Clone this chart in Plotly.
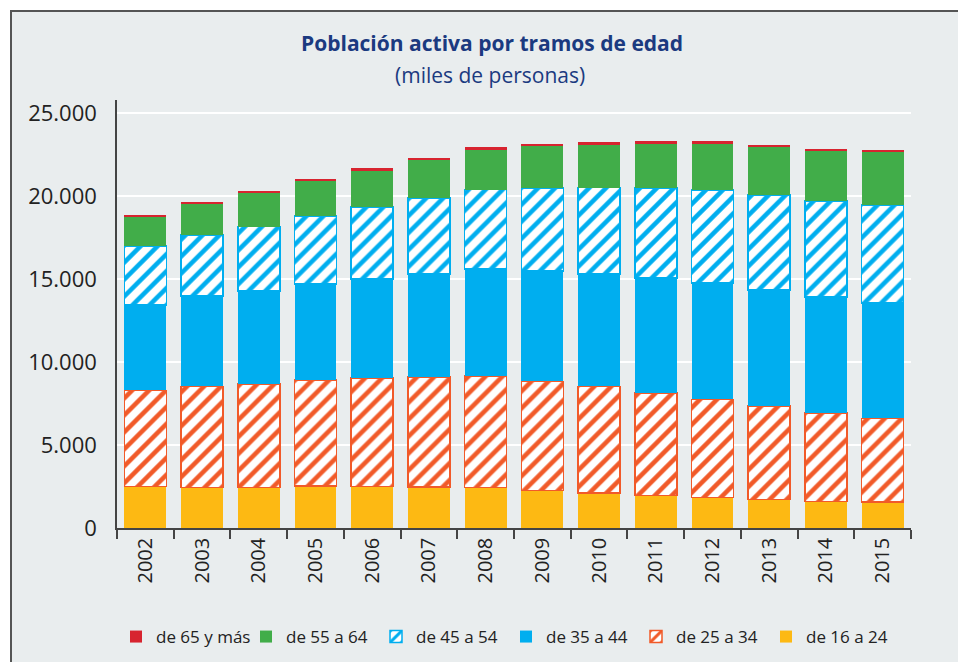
import plotly.graph_objects as go

years = ["2002", "2003", "2004", "2005", "2006", "2007", "2008",
         "2009", "2010", "2011", "2012", "2013", "2014", "2015"]

age_16_24 = [2488, 2450, 2430, 2530, 2490, 2470, 2450, 2250, 2108, 1950, 1830, 1727, 1606, 1566]
age_25_34 = [5807, 6086, 6263, 6386, 6546, 6646, 6706, 6585, 6428, 6182, 5922, 5622, 5322, 5040]
age_35_44 = [5156, 5440, 5603, 5783, 5964, 6204, 6446, 6647, 6765, 6928, 7007, 7008, 6988, 6968]
age_45_54 = [3537, 3694, 3876, 4096, 4337, 4578, 4802, 5018, 5221, 5422, 5603, 5703, 5801, 5902]
age_55_64 = [1807, 1890, 2029, 2129, 2209, 2291, 2408, 2532, 2571, 2691, 2811, 2891, 2994, 3194]
age_65_plus = [90, 110, 110, 140, 130, 140, 170, 145, 160, 160, 160, 140, 140, 140]

series_names = ["de 16 a 24", "de 25 a 34", "de 35 a 44", "de 45 a 54", "de 55 a 64", "de 65 y más"]
series_values = [age_16_24, age_25_34, age_35_44, age_45_54, age_55_64, age_65_plus]
series_colors = ["#FDB913", "#F15A29", "#00AEEF", "#00AEEF", "#41AD49", "#D7242F"]
series_hatched = [False, True, False, True, False, False]

BG = "#E9EDEE"
FONT = "Open Sans"

fig = go.Figure()
for name, vals, col, hatched in zip(series_names, series_values, series_colors, series_hatched):
    if hatched:
        marker = dict(color="white",
                      pattern=dict(shape="/", fgcolor=col, bgcolor="white", size=12,
                                   solidity=0.38, fgopacity=1),
                      line=dict(color=col, width=1.5))
    else:
        marker = dict(color=col, line=dict(width=0))
    fig.add_trace(go.Bar(x=years, y=vals, name=name, marker=marker))

# plot area on page: x 117..911, y 100..528 (body margin removed below)
W, H = 958, 662
L, T = 117, 100
R = W - 911
B = H - 528
pw, ph = W - L - R, H - T - B

def px_x(x):
    return (x - L) / pw

def px_y(y):
    return (H - B - y) / ph

def cx(x):
    return x / W

def cy(y):
    return 1 - y / H

# frame: gray fill plus left and top border lines
fig.add_shape(type="rect", xref="paper", yref="paper",
              x0=px_x(11), x1=px_x(990), y0=px_y(700), y1=px_y(11),
              fillcolor=BG, line=dict(width=0), layer="below")
fig.add_shape(type="line", xref="paper", yref="paper",
              x0=px_x(11), x1=px_x(11), y0=px_y(700), y1=px_y(10),
              line=dict(color="#555555", width=2), layer="below")
fig.add_shape(type="line", xref="paper", yref="paper",
              x0=px_x(10), x1=px_x(990), y0=px_y(11), y1=px_y(11),
              line=dict(color="#555555", width=2), layer="below")

fig.update_layout(
    width=W, height=H,
    margin=dict(l=L, r=R, t=T, b=B, autoexpand=False),
    barmode="stack",
    bargap=0.26,
    paper_bgcolor="white",
    plot_bgcolor="rgba(0,0,0,0)",
    separators=",.",
    font=dict(family=FONT, color="#222222"),
    showlegend=True,
    legend=dict(orientation="h", traceorder="reversed",
                xref="container", yref="container",
                x=cx(506), xanchor="center", y=cy(637), yanchor="middle",
                font=dict(size=17, color="#222222"), bgcolor="rgba(0,0,0,0)",
                itemwidth=30, entrywidth=85),
    annotations=[
        dict(text="<b>Población activa por tramos de edad</b>", xref="paper", yref="paper",
             x=px_x(492), y=px_y(43), xanchor="center", yanchor="middle", showarrow=False,
             font=dict(family=FONT, size=21, color="#1B3A80")),
        dict(text="(miles de personas)", xref="paper", yref="paper",
             x=px_x(490), y=px_y(75), xanchor="center", yanchor="middle", showarrow=False,
             font=dict(family=FONT, size=21, color="#1B3A80")),
    ],
)

fig.update_xaxes(showline=True, linecolor="#444444", linewidth=1.5,
                 ticks="outside", ticklen=9, tickcolor="#444444", tickwidth=1.5,
                 tickson="boundaries", tickangle=-90, automargin=False,
                 tickfont=dict(size=20, color="#222222"), showgrid=False)
fig.update_yaxes(range=[0, 25800], tickvals=[0, 5000, 10000, 15000, 20000, 25000],
                 tickformat=",d", showline=True, linecolor="#444444", linewidth=1.5,
                 showgrid=True, gridcolor="white", gridwidth=2, automargin=False,
                 zeroline=False, ticks="", ticklabelstandoff=14,
                 tickfont=dict(size=22, color="#222222"))

fig.write_html("out.html",
               config={"displayModeBar": False},
               post_script="document.body.style.margin='0';"
                           "document.documentElement.style.overflow='hidden';"
                           "document.body.style.overflow='hidden';")
